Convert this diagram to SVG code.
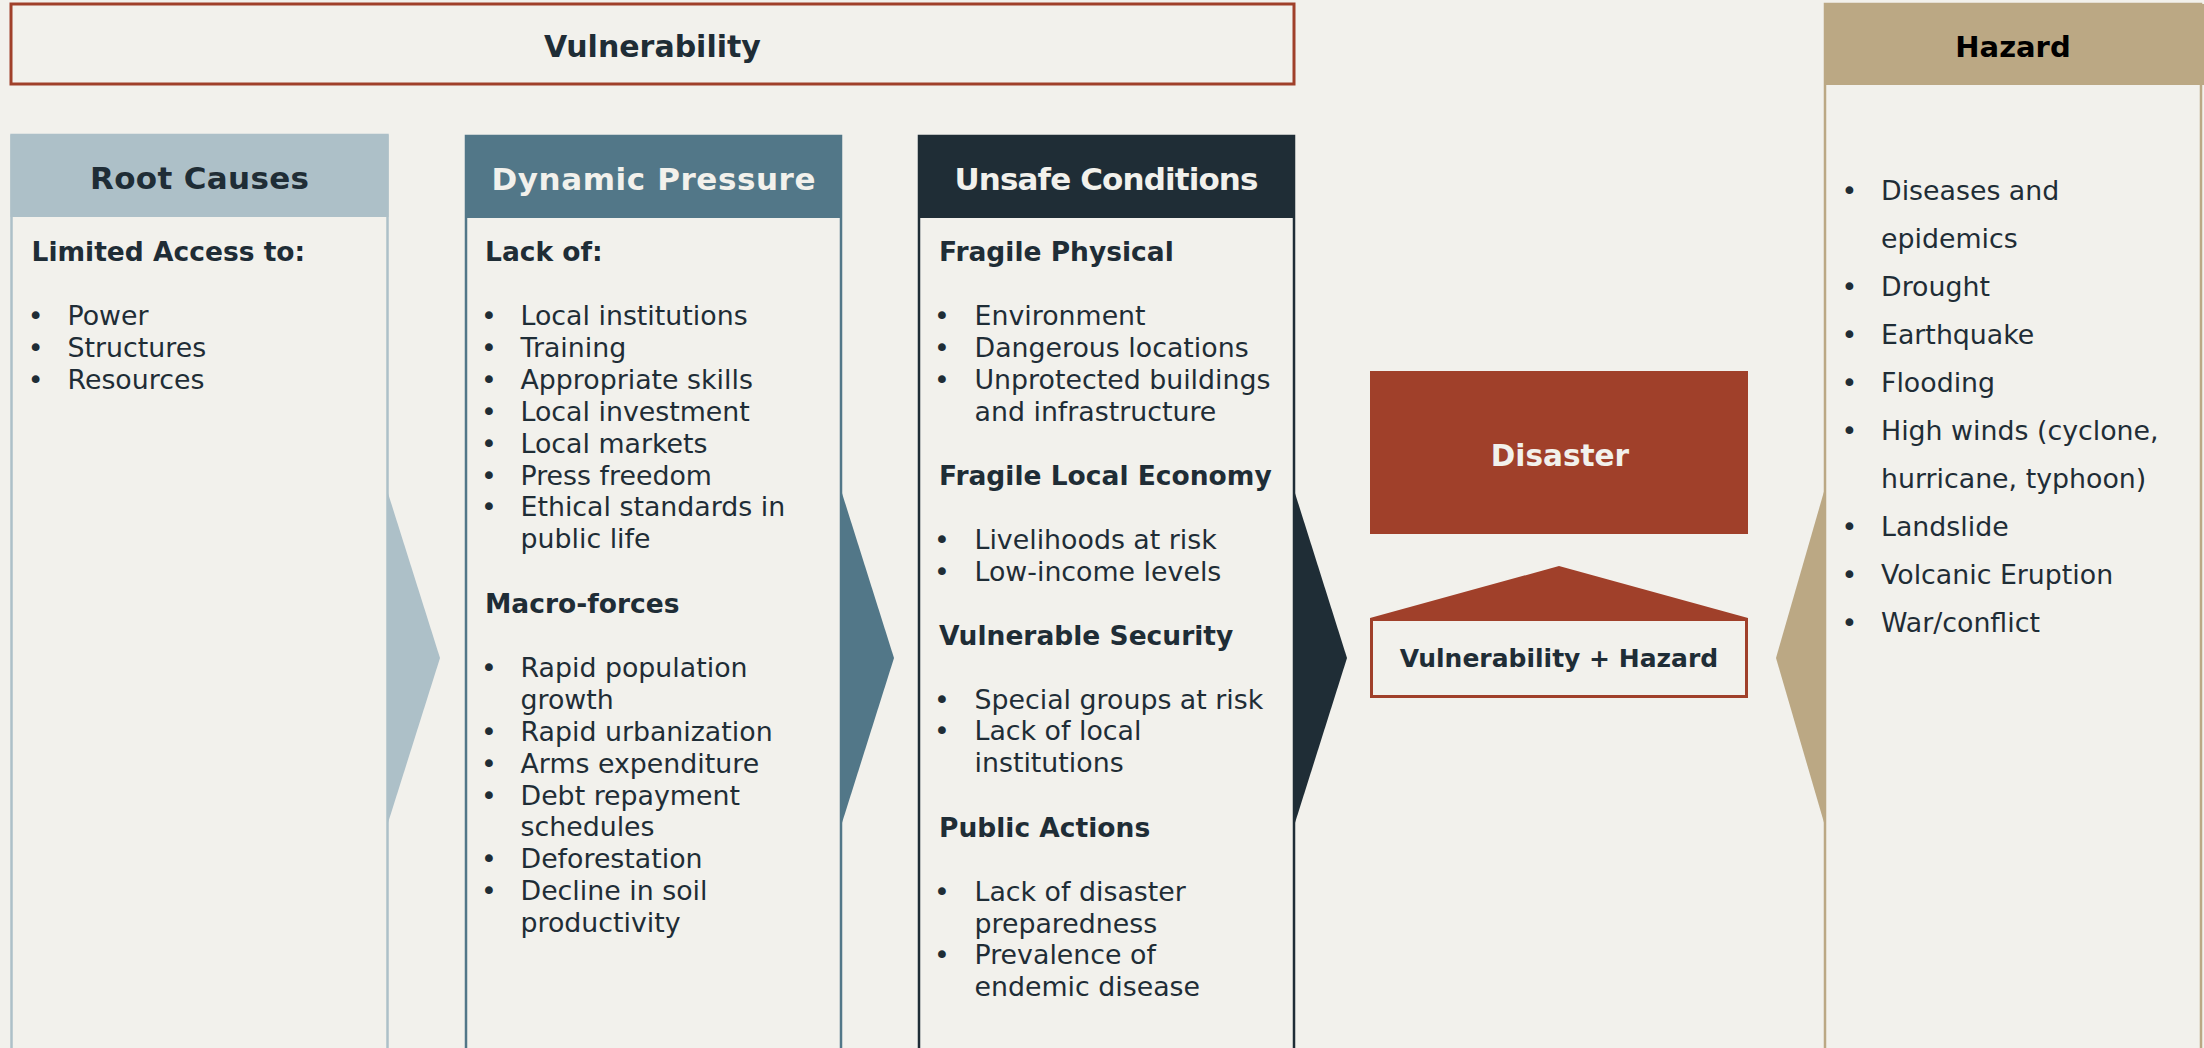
<svg xmlns="http://www.w3.org/2000/svg" width="2204" height="1048" viewBox="0 0 2204 1048">
<style>
text{font-family:"DejaVu Sans","Liberation Sans",sans-serif;}
.hd{font-weight:bold;font-size:31px;text-anchor:middle;}
.sub{font-weight:bold;font-size:26.5px;fill:#1f2d36;}
.it{font-size:26.8px;fill:#1f2d36;}
.bu{font-size:26.8px;fill:#1f2d36;text-anchor:middle;}
.body{fill:#f2f1ec;stroke-width:2.5;}
</style>
<rect x="0" y="0" width="2204" height="1048" fill="#f2f1ec"/>

<g id="vulnerability">
<rect x="11" y="4" width="1283" height="80" fill="#f2f1ec" stroke="#a0402a" stroke-width="3"/>
<text class="hd" x="652.5" y="57" fill="#1f2d36" style="font-size:30px">Vulnerability</text>
</g>

<g id="connectors">
<polygon points="387,490 440,658 387,826" fill="#adc0c8"/>
<polygon points="841,490 894,658 841,826" fill="#527788"/>
<polygon points="1294,490 1347,658 1294,826" fill="#1f2d36"/>
<polygon points="1825,488 1776,658 1825,826" fill="#bba884"/>
<polygon points="1370,618 1559,566 1748,618" fill="#a0402a"/>
</g>

<g id="root-causes">
<rect class="body" x="11.5" y="135" width="376" height="940" stroke="#adc0c8"/>
<rect x="10.5" y="135" width="378" height="82" fill="#adc0c8"/>
<text class="hd" x="199.5" y="189" fill="#1f2d36" textLength="219">Root Causes</text>
<text class="sub" x="31.5" y="261">Limited Access to:</text>
<text class="bu" x="35.6" y="325">•</text><text class="it" x="67.5" y="325">Power</text>
<text class="bu" x="35.6" y="357">•</text><text class="it" x="67.5" y="357">Structures</text>
<text class="bu" x="35.6" y="389">•</text><text class="it" x="67.5" y="389">Resources</text>
</g>

<g id="dynamic-pressure">
<rect class="body" x="466" y="136" width="375" height="940" stroke="#527788"/>
<rect x="465" y="136" width="377" height="82" fill="#527788"/>
<text class="hd" x="653.5" y="190" fill="#f2f1ec" textLength="324">Dynamic Pressure</text>
<text class="sub" x="485" y="261">Lack of:</text>
<text class="bu" x="489" y="325">•</text><text class="it" x="520.5" y="325">Local institutions</text>
<text class="bu" x="489" y="357">•</text><text class="it" x="520.5" y="357">Training</text>
<text class="bu" x="489" y="389">•</text><text class="it" x="520.5" y="389">Appropriate skills</text>
<text class="bu" x="489" y="421">•</text><text class="it" x="520.5" y="421">Local investment</text>
<text class="bu" x="489" y="452.5">•</text><text class="it" x="520.5" y="452.5">Local markets</text>
<text class="bu" x="489" y="484.5">•</text><text class="it" x="520.5" y="484.5">Press freedom</text>
<text class="bu" x="489" y="516">•</text><text class="it" x="520.5" y="516">Ethical standards in</text>
<text class="it" x="520.5" y="548">public life</text>
<text class="sub" x="485" y="613">Macro-forces</text>
<text class="bu" x="489" y="677">•</text><text class="it" x="520.5" y="677">Rapid population</text>
<text class="it" x="520.5" y="709">growth</text>
<text class="bu" x="489" y="741">•</text><text class="it" x="520.5" y="741">Rapid urbanization</text>
<text class="bu" x="489" y="773">•</text><text class="it" x="520.5" y="773">Arms expenditure</text>
<text class="bu" x="489" y="804.5">•</text><text class="it" x="520.5" y="804.5">Debt repayment</text>
<text class="it" x="520.5" y="836">schedules</text>
<text class="bu" x="489" y="868">•</text><text class="it" x="520.5" y="868">Deforestation</text>
<text class="bu" x="489" y="900">•</text><text class="it" x="520.5" y="900">Decline in soil</text>
<text class="it" x="520.5" y="932">productivity</text>
</g>

<g id="unsafe-conditions">
<rect class="body" x="919" y="136" width="375" height="940" stroke="#1f2d36"/>
<rect x="918" y="136" width="377" height="82" fill="#1f2d36"/>
<text class="hd" x="1106.5" y="190" fill="#f2f1ec" textLength="304">Unsafe Conditions</text>
<text class="sub" x="939" y="261">Fragile Physical</text>
<text class="bu" x="942" y="325">•</text><text class="it" x="974.5" y="325">Environment</text>
<text class="bu" x="942" y="357">•</text><text class="it" x="974.5" y="357">Dangerous locations</text>
<text class="bu" x="942" y="389">•</text><text class="it" x="974.5" y="389">Unprotected buildings</text>
<text class="it" x="974.5" y="421">and infrastructure</text>
<text class="sub" x="939" y="485">Fragile Local Economy</text>
<text class="bu" x="942" y="549">•</text><text class="it" x="974.5" y="549">Livelihoods at risk</text>
<text class="bu" x="942" y="580.5">•</text><text class="it" x="974.5" y="580.5">Low-income levels</text>
<text class="sub" x="939" y="645">Vulnerable Security</text>
<text class="bu" x="942" y="708.5">•</text><text class="it" x="974.5" y="708.5">Special groups at risk</text>
<text class="bu" x="942" y="740">•</text><text class="it" x="974.5" y="740">Lack of local</text>
<text class="it" x="974.5" y="772">institutions</text>
<text class="sub" x="939" y="837">Public Actions</text>
<text class="bu" x="942" y="900.5">•</text><text class="it" x="974.5" y="900.5">Lack of disaster</text>
<text class="it" x="974.5" y="932.5">preparedness</text>
<text class="bu" x="942" y="964">•</text><text class="it" x="974.5" y="964">Prevalence of</text>
<text class="it" x="974.5" y="996">endemic disease</text>
</g>

<g id="disaster">
<rect x="1370" y="371" width="378" height="163" fill="#a0402a"/>
<text class="hd" x="1560" y="465.5" fill="#f2f1ec" style="font-size:29.5px">Disaster</text>
</g>

<g id="vulnerability-hazard">
<rect x="1371.5" y="619.5" width="375" height="77" fill="#f2f1ec" stroke="#a0402a" stroke-width="3"/>
<text class="hd" x="1559" y="667" fill="#1f2d36" style="font-size:25px">Vulnerability + Hazard</text>
</g>

<g id="hazard">
<rect class="body" x="1825" y="4" width="376" height="1070" stroke="#bba884"/>
<rect x="1824" y="4" width="380" height="81" fill="#bba884"/>
<text class="hd" x="2013" y="56.5" fill="#000000" style="font-size:29px">Hazard</text>
<text class="bu" x="1849.5" y="200">•</text><text class="it" x="1881" y="200">Diseases and</text>
<text class="it" x="1881" y="248">epidemics</text>
<text class="bu" x="1849.5" y="296">•</text><text class="it" x="1881" y="296">Drought</text>
<text class="bu" x="1849.5" y="344">•</text><text class="it" x="1881" y="344">Earthquake</text>
<text class="bu" x="1849.5" y="392">•</text><text class="it" x="1881" y="392">Flooding</text>
<text class="bu" x="1849.5" y="440">•</text><text class="it" x="1881" y="440">High winds (cyclone,</text>
<text class="it" x="1881" y="488">hurricane, typhoon)</text>
<text class="bu" x="1849.5" y="536">•</text><text class="it" x="1881" y="536">Landslide</text>
<text class="bu" x="1849.5" y="584">•</text><text class="it" x="1881" y="584">Volcanic Eruption</text>
<text class="bu" x="1849.5" y="632">•</text><text class="it" x="1881" y="632">War/conflict</text>
</g>
</svg>
